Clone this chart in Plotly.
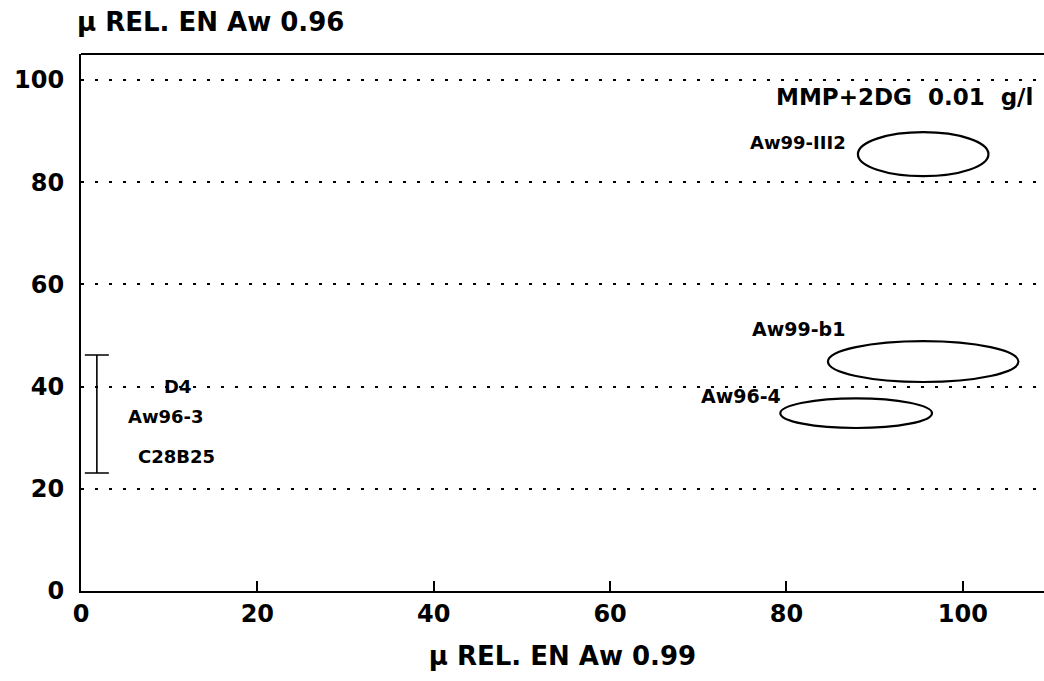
import plotly.graph_objects as go

# Growth-rate groups (relative µ at Aw 0.99 vs Aw 0.96)
strain_names = ["Aw99-III2", "Aw99-b1", "Aw96-4"]
center_x = [95.5, 95.5, 87.9]
center_y = [85.5, 44.9, 34.8]
radius_x = [7.4, 10.8, 8.6]
radius_y = [4.3, 4.0, 2.9]

label_x = [87.0, 81.4, 74.8]
label_y = [87.7, 51.3, 38.2]

# Cluster of low-growth strains near x = 0
cluster_names = ["D4", "Aw96-3", "C28B25"]
cluster_label_x = [10.9, 9.6, 10.8]
cluster_label_y = [40.1, 34.2, 26.4]
bar_x = [1.8]
bar_low = [23.1]
bar_high = [46.2]

x_ticks = [0, 20, 40, 60, 80, 100]
y_ticks = [0, 20, 40, 60, 80, 100]

medium_label = "MMP+2DG  0.01  g/l"
x_title = "µ REL. EN Aw 0.99"
y_title = "µ REL. EN Aw 0.96"

FONT = "DejaVu Sans"

fig = go.Figure()

# Range bar for the low cluster
mid = [(lo + hi) / 2 for lo, hi in zip(bar_low, bar_high)]
half = [(hi - lo) / 2 for lo, hi in zip(bar_low, bar_high)]
fig.add_trace(go.Scatter(
    x=bar_x, y=mid, mode="markers",
    marker=dict(size=1, color="rgba(0,0,0,0)"),
    error_y=dict(type="data", array=half, symmetric=True,
                 color="black", thickness=1.6, width=12),
    showlegend=False, hoverinfo="skip",
))

# Ellipses outlining each strain group
for cx, cy, rx, ry in zip(center_x, center_y, radius_x, radius_y):
    fig.add_shape(type="circle", xref="x", yref="y",
                  x0=cx - rx, x1=cx + rx, y0=cy - ry, y1=cy + ry,
                  line=dict(color="black", width=2.2))

# Horizontal top frame line
fig.add_shape(type="line", xref="paper", yref="paper",
              x0=0, x1=1, y0=1, y1=1, line=dict(color="black", width=2))

# Strain labels
fig.add_annotation(x=label_x[0], y=label_y[0], text=strain_names[0],
                   showarrow=False, xanchor="right",
                   font=dict(family=FONT, size=18, color="black", weight="bold"))
for name, lx, ly in zip(strain_names[1:], label_x[1:], label_y[1:]):
    fig.add_annotation(x=lx, y=ly, text=name, showarrow=False,
                       font=dict(family=FONT, size=19, color="black", weight="bold"))
for name, lx, ly in zip(cluster_names, cluster_label_x, cluster_label_y):
    fig.add_annotation(x=lx, y=ly, text=name, showarrow=False,
                       font=dict(family=FONT, size=18, color="black", weight="bold"))

fig.add_annotation(x=108.2, y=96.7, text=medium_label, showarrow=False,
                   xanchor="right",
                   font=dict(family=FONT, size=23, color="black", weight="bold"))

# Y-axis title placed above the axis
fig.add_annotation(xref="paper", yref="paper", x=-0.006, y=1.0, yshift=32,
                   text=y_title, showarrow=False, xanchor="left", yanchor="middle",
                   font=dict(family=FONT, size=26, color="black", weight="bold"))

fig.update_xaxes(
    range=[0, 109.2], tickvals=x_ticks, ticktext=[str(v) for v in x_ticks],
    ticks="inside", ticklen=10, tickwidth=1.6, tickcolor="black",
    showline=True, linecolor="black", linewidth=2.2,
    showgrid=False, zeroline=False,
    tickfont=dict(family=FONT, size=24, color="black", weight="bold"),
    title=dict(text=x_title, standoff=20,
               font=dict(family=FONT, size=26, color="black", weight="bold")),
)
fig.update_yaxes(
    range=[0, 105.1], tickvals=y_ticks, ticktext=[str(v) for v in y_ticks],
    ticks="", showline=True, linecolor="black", linewidth=2.2,
    showgrid=True, gridcolor="black", gridwidth=1.6, griddash="3px,11px",
    zeroline=False, ticklabelstandoff=10,
    tickfont=dict(family=FONT, size=24, color="black", weight="bold"),
)

fig.update_layout(
    width=1044, height=681,
    margin=dict(l=81, r=0, t=54, b=90),
    plot_bgcolor="white", paper_bgcolor="white",
    showlegend=False,
)

fig.write_html("out.html")
